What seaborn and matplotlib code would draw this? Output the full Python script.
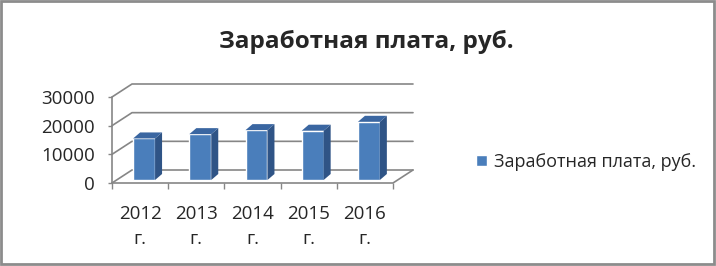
import matplotlib
matplotlib.use("Agg")
import matplotlib.pyplot as plt
from matplotlib.patches import Polygon, Rectangle, Patch
import seaborn as sns
import pandas as pd

# data
years = ["2012\nг.", "2013\nг.", "2014\nг.", "2015\nг.", "2016\nг."]
salary = [14500, 16000, 17400, 17200, 20300]
y_ticks = [0, 10000, 20000, 30000]
title = "Заработная плата, руб."

FRONT = "#4a7ebb"
SIDE = "#2f5486"
TOP = "#3a66a1"
GRID = "#868686"

sns.set_style("white")
plt.rcParams["font.family"] = ["Open Sans", "DejaVu Sans"]

W, H = 716, 266
fig = plt.figure(figsize=(W / 100, H / 100), dpi=100)
# front plane of the pseudo-3d box, in pixels
ax = fig.add_axes([112 / W, 83 / H, 281 / W, 86 / H])

df = pd.DataFrame({"year": years, "salary": salary})
sns.barplot(data=df, x="year", y="salary", color=FRONT, width=0.39,
            saturation=1, ax=ax, zorder=3)

ax.set_xlim(-0.5, 4.5)
ax.set_ylim(0, 30000)

# pixel -> data conversion for the fake depth
sx = 5 / 281
sy = 30000 / 86
wall_dx, wall_dy = 20 * sx, 13 * sy
bar_dx, bar_dy = 4 * sx, 3 * sy
dep_dx, dep_dy = 7 * sx, 6 * sy

# back wall gridlines + left wall diagonals
for v in y_ticks:
    ax.plot([-0.5, -0.5 + wall_dx, 4.5 + wall_dx], [v, v + wall_dy, v + wall_dy],
            color=GRID, lw=1.2, clip_on=False, zorder=1)
# floor front edge and right diagonal
ax.plot([-0.5, 4.5, 4.5 + wall_dx], [0, 0, wall_dy], color=GRID, lw=1.2,
        clip_on=False, zorder=1)
ax.plot([-0.5, -0.5], [0, 30000], color=GRID, lw=1.2, clip_on=False, zorder=1)

# shift bars into the box and give them sides and tops
for p in list(ax.patches):
    x0 = p.get_x() + bar_dx
    w = p.get_width()
    h = p.get_height()
    p.set_x(x0)
    p.set_y(bar_dy)
    p.set_clip_on(False)
    top = bar_dy + h
    side = Polygon([(x0 + w, bar_dy), (x0 + w + dep_dx, bar_dy + dep_dy),
                    (x0 + w + dep_dx, top + dep_dy), (x0 + w, top)],
                   closed=True, facecolor=SIDE, edgecolor="none", zorder=3, clip_on=False)
    lid = Polygon([(x0, top), (x0 + dep_dx, top + dep_dy),
                   (x0 + w + dep_dx, top + dep_dy), (x0 + w, top)],
                  closed=True, facecolor=TOP, edgecolor="none", zorder=3, clip_on=False)
    ax.add_patch(side)
    ax.add_patch(lid)

sns.despine(ax=ax, left=True, bottom=True)
ax.set_xlabel("")
ax.set_ylabel("")

ax.set_yticks(y_ticks)
ax.set_yticklabels([str(v) for v in y_ticks])
ax.tick_params(axis="y", length=3, width=1, color=GRID, pad=9.5, labelsize=13.5,
               left=True)

ax.set_xticks(range(len(years)))
ax.set_xticklabels(years, linespacing=1.5)
ax.set_xticks([i - 0.5 for i in range(len(years) + 1)], minor=True)
ax.tick_params(axis="x", which="major", length=0, pad=16, labelsize=13.5)
ax.tick_params(axis="x", which="minor", length=4, width=1, color=GRID, bottom=True)

fig.text(366 / W, 1 - 42 / H, title, ha="center", va="center",
         fontsize=17.5, fontweight="bold")

fig.legend(handles=[Patch(facecolor=FRONT)], labels=[title],
           loc="center left", bbox_to_anchor=(460 / W, 1 - 162 / H),
           frameon=False, handlelength=0.6, handleheight=0.6,
           handletextpad=0.4, fontsize=13)

fig.add_artist(Rectangle((1 / W, 2 / H), 713 / W, 263 / H, transform=fig.transFigure,
                         fill=False, edgecolor="#8c8c8c", lw=2))

fig.savefig("out.png", dpi=100)
